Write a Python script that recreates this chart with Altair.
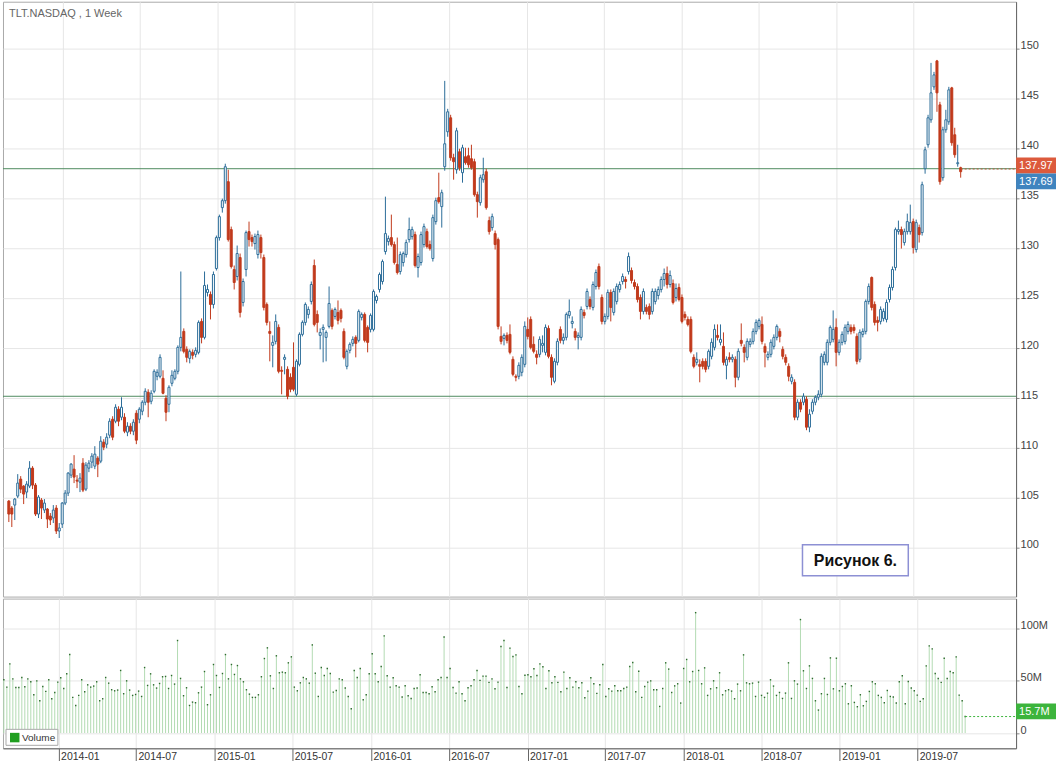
import altair as alt
import pandas as pd

# ---------------- data (weekly candles, TLT) ----------------
OPEN = [
    104.7,104.0,104.3,105.2,106.9,106.2,105.6,106.2,108.0,106.3,
    103.4,104.8,103.8,103.9,103.2,103.0,104.0,101.7,102.4,104.5,
    105.5,107.3,107.9,106.8,106.6,108.5,105.9,108.0,108.6,108.2,
    109.0,108.7,110.6,110.4,111.3,112.9,112.7,113.9,113.1,113.1,
    111.6,112.2,111.7,113.5,112.9,113.7,114.6,115.6,114.7,115.7,
    117.2,117.2,117.0,115.0,114.4,116.5,117.0,117.7,120.1,121.7,
    119.9,119.0,119.6,119.4,119.6,122.7,121.1,125.6,125.4,124.4,
    128.0,131.1,134.1,134.8,136.7,131.9,127.9,127.2,129.1,124.6,
    127.9,131.7,131.1,130.5,129.4,131.1,129.1,124.4,121.7,120.3,
    120.7,122.1,117.8,118.9,117.9,117.1,118.1,115.4,118.4,121.4,
    122.6,123.4,124.7,128.3,123.4,121.3,121.9,121.1,122.2,123.8,
    123.2,123.6,123.8,121.7,118.2,119.8,120.5,121.1,120.8,123.1,
    123.4,122.1,121.9,121.9,124.8,125.9,126.7,129.7,130.7,131.1,
    130.4,128.4,127.7,128.6,129.4,130.9,131.2,131.4,128.1,128.6,
    130.4,131.7,130.4,129.0,132.7,135.1,134.2,138.2,141.7,143.1,
    139.1,137.9,139.7,137.6,139.2,139.3,139.0,138.7,135.4,134.6,
    136.9,137.7,132.8,132.1,131.5,
    130.9,121.2,121.0,121.3,121.4,118.9,117.2,117.2,117.6,118.4,
    121.9,122.9,120.4,119.4,119.4,120.3,119.6,122.0,119.1,116.7,
    118.6,121.9,120.8,121.1,123.3,122.5,121.7,121.1,121.1,123.6,
    124.2,124.9,124.1,126.2,128.2,125.1,122.7,123.2,125.6,123.6,
    124.7,125.9,126.7,126.9,127.7,127.8,126.6,126.2,125.1,123.7,
    124.1,124.2,123.7,
    124.7,125.3,125.9,126.9,127.5,126.4,126.5,125.1,126.1,125.1,
    123.4,122.9,122.9,119.1,118.6,118.4,118.7,118.7,118.2,119.2,
    120.1,121.3,120.6,120.2,118.3,119.1,118.9,118.9,117.1,120.8,
    120.1,119.1,120.4,120.7,121.7,122.2,122.4,120.2,119.1,119.4,
    120.2,121.1,121.7,119.9,119.1,118.2,116.7,116.6,113.1,114.6,
    114.6,114.9,112.1,
    113.7,
    114.6,115.1,115.4,118.6,118.6,120.6,120.9,122.1,119.6,120.6,
    120.7,121.7,122.1,122.1,121.2,118.9,121.4,121.7,124.7,127.1,
    124.4,122.8,122.7,123.0,122.9,124.9,126.1,128.1,131.7,131.9,
    130.6,131.7,131.7,132.7,129.9,132.1,131.6,138.0,140.4,142.9,
    146.2,148.8,144.4,137.1,141.9,142.7,146.1,141.4,138.5,138.1,
]
HIGH = [
    104.8,104.2,105.0,107.4,107.2,106.3,106.7,108.7,108.2,106.5,
    105.3,105.0,104.9,104.0,103.5,104.3,104.3,102.5,104.6,105.8,
    107.6,108.5,109.3,107.3,107.5,109.0,108.6,108.8,109.5,110.2,
    109.2,111.2,110.9,111.5,113.0,113.2,114.4,114.2,115.1,113.5,
    112.6,112.5,112.9,113.8,114.1,114.8,116.0,115.9,115.8,117.9,
    117.9,119.4,117.8,115.3,116.3,117.8,117.9,120.3,127.7,122.0,
    120.2,119.9,119.9,120.1,122.8,123.0,127.7,126.4,125.7,127.7,
    131.3,133.4,135.0,138.5,137.9,132.2,128.3,130.3,129.5,127.0,
    131.8,132.7,131.4,131.5,131.8,131.4,129.4,124.6,122.7,121.3,
    123.4,122.4,118.2,119.4,118.2,117.5,120.6,118.9,121.6,122.8,
    124.6,124.2,126.7,128.9,123.8,122.0,122.4,121.8,126.2,124.0,
    124.1,124.8,124.0,122.0,119.9,120.6,121.2,121.3,123.9,123.6,
    123.6,122.3,123.5,125.9,125.4,127.6,128.9,135.2,131.3,133.4,
    130.7,131.1,129.7,129.7,130.9,133.1,132.2,131.7,129.5,131.7,
    132.5,132.0,130.8,133.4,135.1,137.6,135.9,146.8,144.0,143.4,
    139.5,142.1,140.0,140.4,140.1,140.1,140.4,139.0,135.7,137.4,
    139.1,138.0,133.2,133.5,131.8,
    131.1,122.2,121.5,121.6,122.4,119.2,117.4,118.6,119.4,122.7,
    123.1,123.2,121.2,119.8,121.2,121.3,122.4,122.3,119.4,119.0,
    121.0,122.2,121.5,123.6,124.9,123.2,122.0,121.6,124.2,123.9,
    126.0,125.2,126.7,127.9,128.5,125.4,123.5,125.9,125.9,126.0,
    126.5,126.7,127.5,127.2,129.6,128.1,126.9,126.5,125.4,126.0,
    124.4,124.5,126.0,
    126.0,126.2,127.2,128.0,128.2,127.8,126.9,126.5,126.5,125.4,
    123.7,123.2,123.2,119.4,119.6,118.9,119.0,119.0,119.9,121.0,
    122.4,122.4,122.4,121.6,119.2,119.6,119.4,119.2,120.0,122.5,
    120.4,121.0,121.0,122.0,122.9,123.0,123.2,120.5,119.7,120.9,
    121.4,122.4,122.0,120.2,119.4,118.5,117.4,116.9,114.9,114.9,
    115.5,115.2,113.9,
    114.9,
    115.3,115.8,119.5,119.7,120.9,122.3,123.8,123.0,120.9,121.7,
    122.4,122.7,122.4,122.4,121.5,121.9,122.0,124.9,126.5,127.2,
    124.7,123.2,124.2,124.0,124.9,126.4,128.2,132.1,132.8,132.2,
    132.0,133.5,134.4,133.0,132.9,132.4,136.7,140.2,143.4,148.6,
    147.7,148.9,144.7,142.2,143.9,146.2,146.2,142.1,140.4,138.2,
]
LOW = [
    102.6,102.1,102.8,105.0,105.5,104.4,105.0,106.0,105.9,103.2,
    103.0,102.9,103.5,102.0,102.3,102.5,101.4,101.0,102.0,104.3,
    105.2,107.0,106.5,106.0,105.6,105.6,105.7,107.6,108.0,107.9,
    107.1,108.5,109.8,110.0,111.0,110.8,112.5,112.2,112.8,111.5,
    111.2,111.4,111.3,110.4,112.5,113.3,114.3,113.1,114.4,115.5,
    116.8,117.0,115.4,112.7,113.6,116.2,116.8,117.4,119.7,119.5,
    118.6,118.5,118.9,119.1,119.4,120.5,120.9,125.2,122.9,124.0,
    127.8,130.8,133.6,134.5,130.7,128.0,125.9,126.8,123.1,124.2,
    127.2,130.2,130.2,129.9,129.0,129.0,123.8,122.3,118.7,118.1,
    120.4,117.5,115.4,117.4,114.9,115.6,115.7,115.2,118.2,121.2,
    122.3,123.0,124.4,122.2,121.6,119.9,118.6,118.7,122.0,121.9,
    122.9,122.4,122.6,118.9,117.9,119.5,120.2,119.1,120.6,122.8,
    120.6,119.6,121.6,121.7,124.5,125.6,126.4,129.4,130.3,130.2,
    128.4,127.4,127.4,128.2,129.1,130.6,130.9,128.1,127.1,128.3,
    130.1,130.0,129.8,128.7,132.4,134.5,132.1,137.8,141.2,138.8,
    136.9,137.5,137.8,136.6,138.4,138.1,137.9,135.2,133.1,134.3,
    136.6,133.9,131.4,131.8,129.9,
    121.9,120.4,120.3,120.5,119.4,117.2,116.7,116.9,117.2,118.1,
    120.9,119.9,119.5,118.4,119.1,119.6,119.3,119.0,116.3,116.5,
    118.3,120.5,120.4,120.8,123.0,122.0,120.8,119.9,120.8,123.0,
    123.9,123.9,123.8,125.9,125.9,122.4,122.4,122.9,122.7,123.3,
    124.4,125.6,126.4,126.0,127.4,126.5,125.9,124.6,122.9,123.4,
    123.4,122.9,123.4,
    124.4,124.9,125.6,126.2,126.0,126.1,124.4,124.7,124.7,122.5,
    122.8,122.2,119.5,118.0,118.3,116.6,117.9,117.6,117.9,118.9,
    119.8,120.8,120.3,118.3,116.9,118.6,118.6,116.1,116.8,120.2,
    118.6,118.8,120.1,120.4,121.4,121.9,120.4,118.1,118.8,119.1,
    119.9,120.8,120.6,118.9,118.3,116.7,116.4,112.8,112.8,113.6,
    114.3,111.8,111.6,
    113.4,
    114.3,114.8,115.1,118.3,118.3,120.3,120.6,118.2,119.3,120.3,
    120.4,121.4,121.4,121.5,118.4,118.6,121.1,121.4,124.4,123.8,
    122.3,121.7,122.4,122.7,122.6,124.6,125.8,127.8,131.4,130.0,
    130.3,131.4,131.4,129.5,129.6,130.6,131.3,137.5,140.1,142.6,
    145.9,143.7,136.4,136.8,141.6,142.4,140.3,139.1,138.2,137.1,
]
CLOSE = [
    103.4,103.4,104.9,106.5,105.9,105.4,106.4,108.0,106.3,103.4,
    105.1,104.0,104.5,102.9,102.8,103.8,101.7,102.0,104.5,105.5,
    107.5,108.4,107.1,106.7,107.0,105.8,108.3,108.5,109.2,109.4,
    108.4,110.7,110.1,111.1,112.7,111.1,114.1,112.7,114.1,111.7,
    112.2,111.7,112.6,110.8,113.9,114.6,115.7,114.6,115.5,117.7,
    117.6,119.1,115.5,113.6,116.1,117.3,117.7,120.1,121.1,119.7,
    119.1,119.7,119.3,119.8,122.6,121.1,126.3,125.9,124.4,127.4,
    131.1,133.2,134.8,138.2,130.9,128.2,126.6,129.5,123.6,126.7,
    131.6,130.9,130.7,131.2,131.4,129.6,124.1,122.6,121.5,120.6,
    122.7,117.7,117.7,119.1,115.2,115.9,115.9,118.7,121.4,122.6,
    124.4,123.9,126.4,122.4,122.6,121.6,122.1,121.6,124.5,122.2,
    123.9,122.8,123.0,119.1,119.7,120.4,120.9,120.5,123.7,123.4,
    120.8,120.6,123.3,125.7,125.2,127.4,128.7,131.5,131.0,130.4,
    128.6,127.6,129.4,129.5,130.6,131.9,131.9,128.3,129.2,131.4,
    132.2,130.2,130.0,133.1,134.8,134.7,135.6,140.5,143.7,139.1,
    138.7,141.8,138.1,140.1,138.6,138.4,138.1,135.4,134.7,137.1,
    137.4,134.1,131.7,133.2,130.4,
    122.2,120.7,121.3,120.8,119.6,117.4,117.1,118.3,119.1,122.2,
    121.2,120.1,119.7,119.1,120.9,120.5,122.1,119.2,117.1,118.7,
    120.7,120.8,121.1,123.4,123.7,122.7,121.1,121.3,123.9,123.3,
    125.7,124.2,126.4,127.6,126.2,122.7,123.2,125.6,124.1,125.7,
    126.2,126.4,127.2,126.7,129.2,126.8,126.2,124.9,123.7,125.7,
    123.7,123.4,125.7,
    125.7,125.9,126.9,127.5,126.4,127.3,124.6,126.0,124.9,122.7,
    123.1,122.4,119.7,118.2,118.9,118.2,118.2,117.9,119.7,120.6,
    121.9,121.1,120.9,118.6,118.9,118.9,119.1,117.1,119.7,120.5,
    119.6,120.7,120.7,121.7,122.6,122.8,120.7,119.6,119.4,120.6,
    121.1,122.2,121.2,119.2,118.6,117.2,117.1,113.1,114.6,113.9,
    115.2,112.1,113.4,
    114.6,
    115.1,115.4,119.2,119.4,120.6,122.1,121.9,119.6,120.6,121.4,
    122.1,122.4,121.7,121.8,118.7,121.6,121.7,124.7,126.2,124.1,
    122.6,122.6,123.9,123.7,124.6,126.1,127.9,131.9,131.9,131.4,
    131.7,132.7,132.6,130.1,132.6,131.4,136.4,139.9,143.1,145.6,
    147.4,145.6,136.7,141.9,142.9,145.9,140.6,139.4,138.6,137.7,
]
VOLUME_M = [
    50.8,43.8,66.0,51.7,43.5,43.5,53.0,44.1,51.7,48.9,
    36.5,49.8,30.8,44.4,39.7,50.8,32.7,38.7,48.6,52.7,
    42.5,56.5,74.9,34.0,26.3,35.9,50.8,39.4,46.0,43.8,
    44.8,48.9,30.8,32.7,53.0,47.6,41.3,40.3,41.0,59.7,
    37.5,49.8,41.0,35.9,36.8,40.0,34.9,62.5,45.4,56.5,
    46.0,42.9,47.3,53.7,54.0,42.5,54.9,46.7,88.3,52.1,
    35.6,43.2,26.3,29.5,28.9,38.4,43.8,58.7,27.0,36.5,
    65.4,54.9,43.5,56.8,74.9,51.7,65.4,55.9,64.4,51.7,
    48.9,41.3,37.1,34.0,34.0,36.5,53.7,71.1,81.3,54.6,
    42.5,73.7,57.5,58.1,57.5,67.0,72.7,43.8,40.3,47.9,
    53.0,51.7,47.6,84.1,57.1,34.9,62.5,54.9,61.6,56.8,
    39.0,40.6,51.7,50.8,42.9,34.9,23.2,59.7,53.0,61.6,
    31.7,36.5,56.5,75.6,56.5,48.9,63.5,92.7,54.6,43.8,
    52.7,45.1,43.8,34.3,45.1,35.6,33.0,42.5,42.9,55.6,
    38.7,38.7,37.5,44.1,39.4,50.8,53.0,91.7,53.0,61.6,
    43.5,38.1,48.9,37.5,30.8,43.2,45.1,50.8,59.7,50.2,
    54.3,54.3,48.3,51.7,42.2,48.6,82.5,88.3,43.5,81.0,
    73.0,74.6,44.4,
    37.5,55.2,55.6,53.7,61.3,54.9,66.0,63.2,42.5,59.4,
    47.9,53.7,48.3,39.4,58.1,42.5,52.7,43.8,48.9,43.2,
    47.9,33.7,40.0,52.7,47.0,37.8,46.0,65.4,34.9,42.2,
    40.0,
    45.1,40.3,40.3,42.5,43.8,63.5,67.3,39.4,59.0,34.0,
    44.4,48.6,49.8,41.3,41.3,25.4,42.5,67.0,61.0,38.7,
    45.0,
    47.0,28.6,61.6,70.2,48.9,58.7,114.9,59.7,47.0,62.2,
    35.9,42.2,49.8,43.2,57.5,36.5,40.3,41.3,40.0,32.7,
    46.7,40.3,74.6,47.9,47.0,47.6,34.9,48.6,35.9,34.0,
    38.0,
    50.8,44.8,35.9,38.7,33.0,38.1,67.0,33.0,49.8,46.7,
    108.3,59.4,42.5,64.1,52.1,30.8,21.9,37.5,52.1,36.8,
    71.7,42.2,71.4,40.3,44.4,47.0,27.9,45.1,29.2,25.1,
    36.5,26.0,30.2,39.7,48.9,47.0,35.9,34.0,28.9,40.6,
    34.9,34.3,28.6,48.9,54.6,27.9,49.2,42.9,40.3,36.2,
    30.2,32.7,64.1,83.2,80.3,56.8,52.1,48.3,71.4,52.1,
    58.7,57.5,72.7,36.2,30.8,15.7,
]

LAST_WEEK = "2019-10-21"
MONTH_TICKS = ["2014-01", "2014-07", "2015-01", "2015-07", "2016-01", "2016-07",
               "2017-01", "2017-07", "2018-01", "2018-07", "2019-01", "2019-07"]
PRICE_TICKS = [100, 105, 110, 115, 120, 125, 130, 135, 140, 145, 150]
VOLUME_TICKS = [0, 50, 100]
LEVELS = [138.0, 115.2]
LAST_PRICE = 137.97
LAST_PRICE_LABEL = "137.97"
BID_LABEL = "137.69"
LAST_VOLUME = 15.7
LAST_VOLUME_LABEL = "15.7M"
TITLE = "TLT.NASDAQ , 1 Week"
NOTE = "Рисунок 6."
LEGEND_LABEL = "Volume"

# ---------------- frame ----------------
n = min(len(OPEN), len(HIGH), len(LOW), len(CLOSE), len(VOLUME_M))
dates = list(pd.date_range(end=LAST_WEEK, periods=n, freq="7D").strftime("%Y-%m-%d"))
df = pd.DataFrame({
    "date": dates,
    "open": OPEN[-n:], "high": HIGH[-n:], "low": LOW[-n:], "close": CLOSE[-n:],
    "vol": VOLUME_M[-n:],
})
df["dir"] = ["up" if c >= o else "down" for o, c in zip(df["open"], df["close"])]
df["base"] = 0.0

BLUE = "#2b6c99"
RED = "#c13a1c"
GRID = "#e6e6e6"
FONT = "Liberation Sans"
W, HP, HV = 1015, 596, 150

xs = alt.Scale(type="utc", domain=[alt.DateTime(year=2013, month=8, date=24, utc=True),
                                   alt.DateTime(year=2020, month=2, date=17, utc=True)])
tick_vals = [alt.DateTime(year=int(s[:4]), month=int(s[5:]), date=1, utc=True) for s in MONTH_TICKS]

price_x_axis = alt.Axis(values=tick_vals, grid=True, gridColor=GRID, labels=False,
                        ticks=False, domain=False, title=None)
X = alt.X("date:T", scale=xs, axis=price_x_axis)

ps = alt.Scale(domain=[95.13, 154.73], nice=False, zero=False)
price_axis = alt.Axis(orient="right", values=PRICE_TICKS, grid=True, gridColor=GRID,
                      domainColor="#666", tickColor="#888", tickSize=3, labelPadding=1,
                      labelBaseline="alphabetic", labelFontSize=11, labelColor="#444",
                      labelFont=FONT, title=None, format="d", labelOverlap=False)

def PY(field):
    return alt.Y(field, scale=ps, axis=price_axis)

dir_dom = ["up", "down"]

wicks = alt.Chart(df).mark_rule(strokeWidth=1).encode(
    x=X, y=PY("low:Q"), y2="high:Q",
    color=alt.Color("dir:N", scale=alt.Scale(domain=dir_dom, range=[BLUE, RED]), legend=None),
)
bodies = alt.Chart(df).mark_bar(size=2, strokeWidth=1).encode(
    x=X, y=PY("open:Q"), y2="close:Q",
    fill=alt.Fill("dir:N", scale=alt.Scale(domain=dir_dom, range=["#ffffff", RED]), legend=None),
    stroke=alt.Stroke("dir:N", scale=alt.Scale(domain=dir_dom, range=[BLUE, RED]), legend=None),
)
levels = alt.Chart(pd.DataFrame({"level": LEVELS})).mark_rule(
    color="#4f8c5f", strokeWidth=1).encode(y=PY("level:Q"))

last_line = alt.Chart(pd.DataFrame({"date": [dates[-1]], "p": [LAST_PRICE]})).mark_rule(
    color="#c0583c", strokeDash=[2, 2], strokeWidth=1).encode(
    x=X, x2=alt.value(W), y=PY("p:Q"))

title_txt = alt.Chart(pd.DataFrame({"t": [TITLE]})).mark_text(
    align="left", baseline="middle", fontSize=11, color="#666", font=FONT).encode(
    x=alt.value(6), y=alt.value(12.5), text="t:N")

note_box = alt.Chart(pd.DataFrame({"t": [NOTE]})).mark_rect(
    fill="white", stroke="#8d90d4", strokeWidth=1.5).encode(
    x=alt.value(801), x2=alt.value(907), y=alt.value(544), y2=alt.value(575))
note_txt = alt.Chart(pd.DataFrame({"t": [NOTE]})).mark_text(
    align="center", baseline="middle", fontSize=16, fontWeight="bold", color="#111", font=FONT).encode(
    x=alt.value(854), y=alt.value(560), text="t:N")

box_red = alt.Chart(pd.DataFrame({"t": [LAST_PRICE_LABEL]})).mark_rect(color="#dc5a3c").encode(
    x=alt.value(W), x2=alt.value(W + 40), y=alt.value(156), y2=alt.value(172))
txt_red = alt.Chart(pd.DataFrame({"t": [LAST_PRICE_LABEL]})).mark_text(
    align="left", baseline="middle", fontSize=11, color="white", font=FONT).encode(
    x=alt.value(W + 3), y=alt.value(164.5), text="t:N")
box_blue = alt.Chart(pd.DataFrame({"t": [BID_LABEL]})).mark_rect(color="#3f84bf").encode(
    x=alt.value(W), x2=alt.value(W + 40), y=alt.value(172), y2=alt.value(188))
txt_blue = alt.Chart(pd.DataFrame({"t": [BID_LABEL]})).mark_text(
    align="left", baseline="middle", fontSize=11, color="white", font=FONT).encode(
    x=alt.value(W + 3), y=alt.value(180.5), text="t:N")

price = alt.layer(levels, wicks, bodies, last_line, title_txt, note_box, note_txt,
                  box_red, txt_red, box_blue, txt_blue).properties(width=W, height=HP)

# ---------------- volume panel ----------------
vs = alt.Scale(domain=[-14.6, 128.3], nice=False, zero=False)
vol_axis = alt.Axis(orient="right", values=VOLUME_TICKS, grid=True, gridColor=GRID,
                    domainColor="#666", tickColor="#888", tickSize=3, labelPadding=1,
                    labelBaseline="alphabetic", labelFontSize=11, labelColor="#444",
                    labelFont=FONT, title=None, labelOverlap=False,
                    labelExpr="datum.value == 0 ? '0' : datum.value + 'M'")
vol_x_axis = alt.Axis(values=tick_vals, format="%Y-%m", grid=True, gridColor=GRID,
                      labelAlign="left", labelOffset=2, tickSize=14, tickColor="#666",
                      domainColor="#666", labelPadding=-11, labelBaseline="top",
                      labelFontSize=10.5, labelColor="#333", labelFont=FONT, title=None,
                      labelFlush=False, labelOverlap=False)
VX = alt.X("date:T", scale=xs, axis=vol_x_axis)

def VY(field):
    return alt.Y(field, scale=vs, axis=vol_axis)

stems = alt.Chart(df).mark_rule(color="#b3dbb3", strokeWidth=1).encode(
    x=VX, y=VY("vol:Q"), y2="base:Q")
tops = alt.Chart(df).mark_square(size=2, color="#2e6b2e", opacity=1).encode(
    x=VX, y=VY("vol:Q"))
vol_last = alt.Chart(pd.DataFrame({"date": [dates[-1]], "v": [LAST_VOLUME]})).mark_rule(
    color="#3cb43c", strokeDash=[2, 2], strokeWidth=1).encode(
    x=VX, x2=alt.value(W), y=VY("v:Q"))
box_green = alt.Chart(pd.DataFrame({"t": [LAST_VOLUME_LABEL]})).mark_rect(color="#3cb43c").encode(
    x=alt.value(W), x2=alt.value(W + 40), y=alt.value(105), y2=alt.value(121))
txt_green = alt.Chart(pd.DataFrame({"t": [LAST_VOLUME_LABEL]})).mark_text(
    align="left", baseline="middle", fontSize=11, color="white", font=FONT).encode(
    x=alt.value(W + 3), y=alt.value(113.5), text="t:N")
leg_box = alt.Chart(pd.DataFrame({"t": [LEGEND_LABEL]})).mark_rect(
    fill="white", stroke="#aaaaaa", strokeWidth=1).encode(
    x=alt.value(3), x2=alt.value(55), y=alt.value(131), y2=alt.value(147))
leg_sq = alt.Chart(pd.DataFrame({"t": [LEGEND_LABEL]})).mark_rect(color="#1f9e1f").encode(
    x=alt.value(7), x2=alt.value(16.5), y=alt.value(134.5), y2=alt.value(144))
leg_txt = alt.Chart(pd.DataFrame({"t": [LEGEND_LABEL]})).mark_text(
    align="left", baseline="middle", fontSize=10, color="#333", font=FONT).encode(
    x=alt.value(19), y=alt.value(139.5), text="t:N")

volume = alt.layer(stems, tops, vol_last, box_green, txt_green, leg_box, leg_sq, leg_txt).properties(
    width=W, height=HV)

chart = alt.vconcat(price, volume, spacing=0).properties(
    padding={"left": 2, "top": 0, "right": 0, "bottom": 0}
).configure(font=FONT).configure_view(stroke="#aaaaaa", strokeWidth=1)

chart.save("out.html", embed_options={"renderer": "svg", "actions": False})
